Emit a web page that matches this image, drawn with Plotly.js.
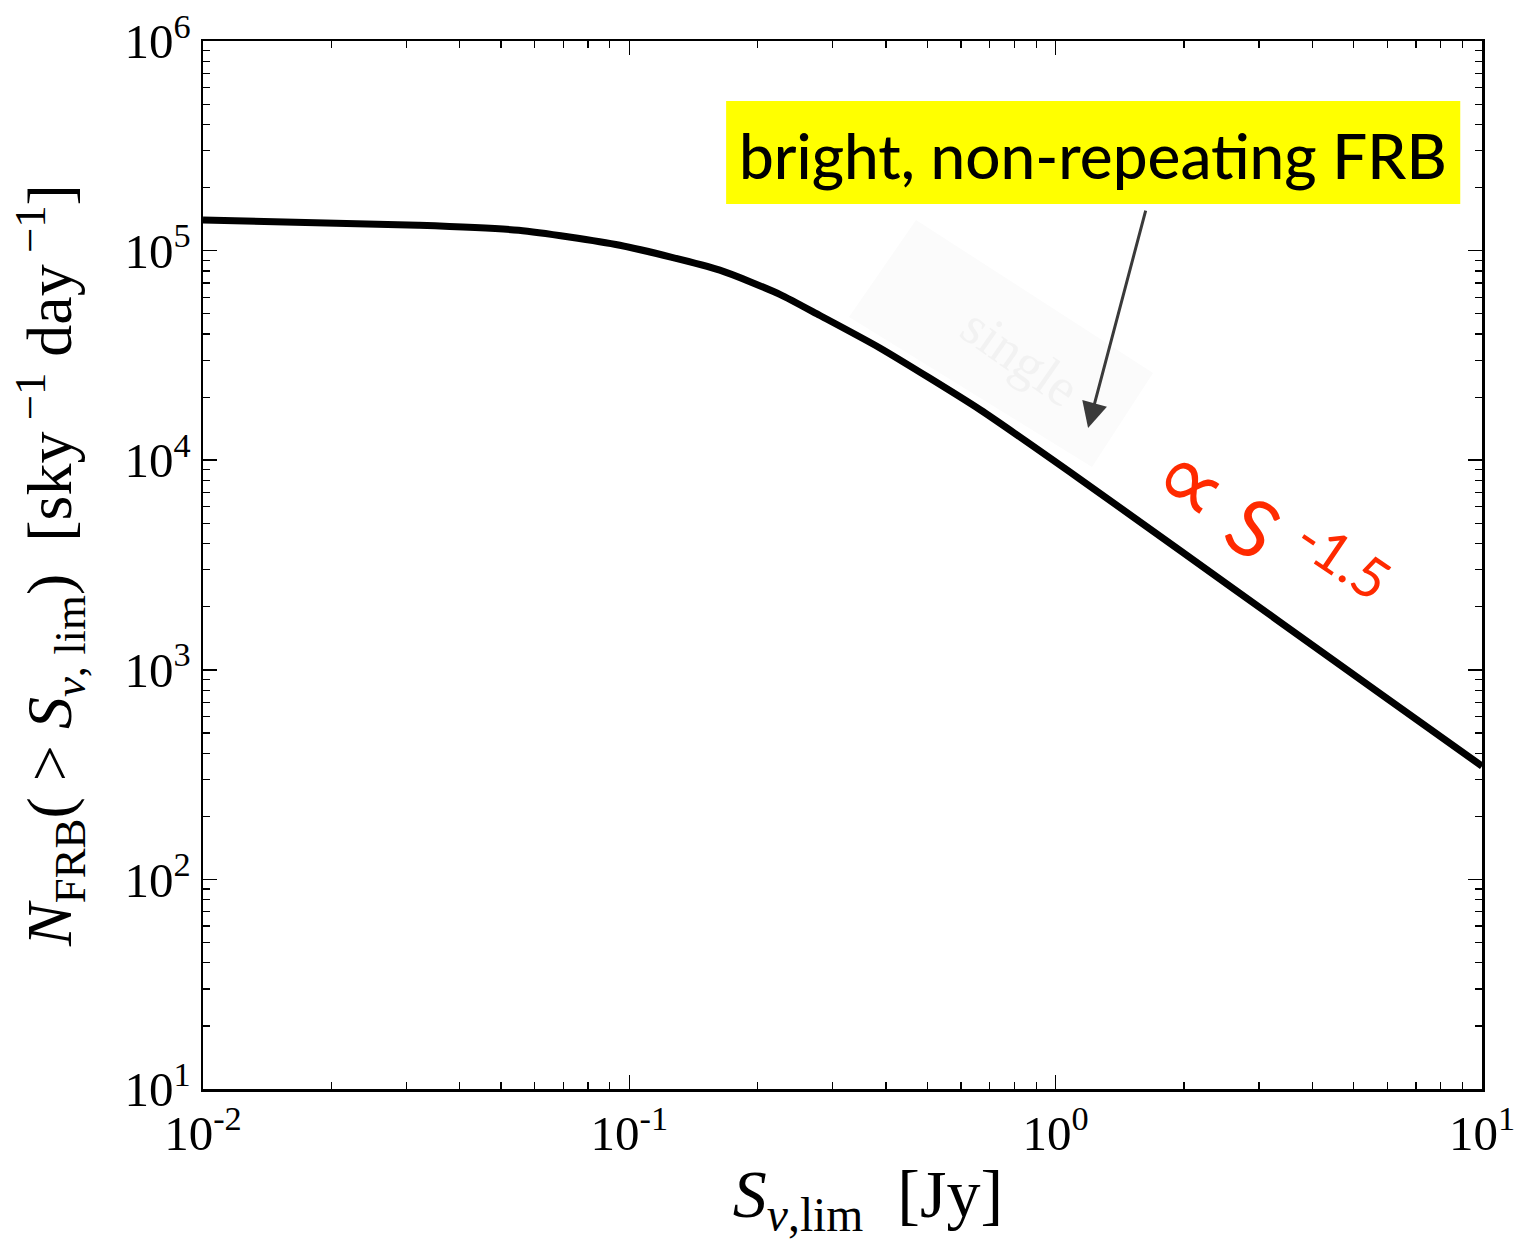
<!DOCTYPE html>
<html>
<head>
<meta charset="utf-8">
<script src="https://cdn.plot.ly/plotly-3.0.1.min.js"></script>
<style>html,body{margin:0;padding:0;background:#fff;}#plot{width:1517px;height:1241px;}</style>
</head>
<body>
<div id="plot"></div>
<script>
// Limiting flux density S_nu,lim [Jy]
var fluxJy = [0.01, 0.032, 0.055, 0.095, 0.163, 0.226, 0.28, 0.387, 0.665, 1.14, 1.96, 3.36, 5.77, 10];
// Cumulative FRB rate N_FRB(>S) [sky^-1 day^-1]
var rateFRB = [1.40e5, 1.32e5, 1.25e5, 1.06e5, 8.07e4, 6.17e4, 4.9e4, 3.43e4, 1.74e4, 8.13e3, 3.7e3, 1.69e3, 7.7e2, 3.47e2];

var xTickVals = [0.01, 0.1, 1, 10];
var xTickText = ['10<sup>-2</sup>', '10<sup>-1</sup>', '10<sup>0</sup>', '10<sup>1</sup>'];
var yTickVals = [10, 100, 1000, 1e4, 1e5, 1e6];
var yTickText = ['10<sup>1</sup>', '10<sup>2</sup>', '10<sup>3</sup>', '10<sup>4</sup>', '10<sup>5</sup>', '10<sup>6</sup>'];

var annBoxText = "bright, non-repeating FRB";
var slopeText = "S";
var slopeExp = "-1.5";

var trace = {
  x: fluxJy, y: rateFRB, type: 'scatter', mode: 'lines',
  line: {color: '#000', width: 7, shape: 'spline', smoothing: 0.6},
  hoverinfo: 'skip', showlegend: false
};

var serif = 'Liberation Serif, Times New Roman, serif';

var axisCommon = {
  type: 'log', showgrid: false, zeroline: false,
  showline: true, linecolor: '#000', linewidth: 2.5, mirror: 'allticks',
  ticks: 'inside', ticklen: 14, tickwidth: 1.5, tickcolor: '#000',
  tickmode: 'array',
  minor: {ticks: 'inside', ticklen: 7, tickwidth: 1.2, tickcolor: '#000', dtick: 'D1', showgrid: false},
  tickfont: {family: serif, size: 49, color: '#000'},
  automargin: false
};

var layout = {
  width: 1517, height: 1241,
  margin: {l: 203, r: 35, t: 41, b: 152},
  paper_bgcolor: '#fff', plot_bgcolor: '#fff',
  showlegend: false,
  xaxis: Object.assign({}, axisCommon, {
    range: [-2, 1], tickvals: xTickVals, ticktext: xTickText,
    title: {text: '&nbsp;&nbsp;&nbsp;<i>S</i><sub><i>ν</i>,lim</sub>  [Jy]', font: {family: serif, size: 68, color: '#000'}, standoff: 20}
  }),
  yaxis: Object.assign({}, axisCommon, {
    range: [1, 6], tickvals: yTickVals, ticktext: yTickText,
    title: {text: '<i>N</i><sub>FRB</sub>( &gt; <i>S</i><sub><i>ν</i>, lim</sub>)  [sky<sup> −1</sup> day<sup> −1</sup>]', font: {family: serif, size: 64, color: '#000'}, standoff: 32}
  }),
  shapes: [
    {type: 'path', xref: 'paper', yref: 'paper', layer: 'below',
     path: 'M 0.5575 0.8292 L 0.7428 0.6832 L 0.6951 0.5935 L 0.5051 0.7366 Z',
     fillcolor: '#fbfbfb', line: {width: 0}},
    {type: 'rect', xref: 'paper', yref: 'paper', layer: 'above',
     x0: 0.409, x1: 0.983, y0: 0.8445, y1: 0.9427,
     fillcolor: '#ffff00', line: {width: 0}}
  ],
  annotations: [
    {xref: 'paper', yref: 'paper', x: 0.6388, y: 0.6985, xanchor: 'center', yanchor: 'middle',
     text: 'single', showarrow: false,
     textangle: 35, font: {family: serif, size: 54, color: '#f2f2f2'}},
    {xref: 'paper', yref: 'paper', x: 0.6955, y: 0.8915, text: annBoxText, showarrow: false,
     xanchor: 'center', yanchor: 'middle',
     font: {family: 'Lato, Noto Sans, sans-serif', size: 62, weight: 500, color: '#000'}},
    {xref: 'paper', yref: 'paper', x: 0.692, y: 0.6307, ax: 58, ay: -219, text: '',
     showarrow: true, arrowhead: 2, arrowsize: 1.7, arrowwidth: 3, arrowcolor: '#3a3a3a'},
    {xref: 'paper', yref: 'paper', x: 0.8345, y: 0.5335, xanchor: 'center', yanchor: 'middle',
     showarrow: false, textangle: 34,
     text: '<span style="font-size:96px">∝</span> ' + slopeText + ' <sup>' + slopeExp + '</sup>',
     font: {family: 'Lato, Noto Sans, sans-serif', size: 80, color: '#ff2a00'}}
  ]
};

Plotly.newPlot('plot', [trace], layout, {displayModeBar: false, staticPlot: true});
</script>
</body>
</html>
